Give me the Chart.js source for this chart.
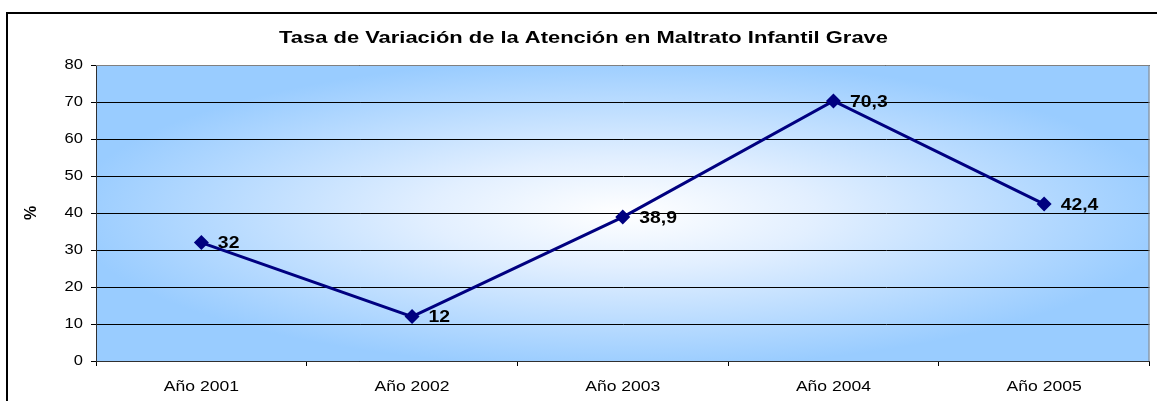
<!DOCTYPE html>
<html><head><meta charset="utf-8">
<script src="https://cdn.jsdelivr.net/npm/chart.js@4/dist/chart.umd.min.js"></script>
<style>html,body{margin:0;padding:0;background:#fff;overflow:hidden;}</style>
</head><body>
<canvas id="c" width="1157" height="401"></canvas>
<script>
const categories = ['Año 2001', 'Año 2002', 'Año 2003', 'Año 2004', 'Año 2005'];
const values = [32, 12, 38.9, 70.3, 42.4];
const valueLabels = ['32', '12', '38,9', '70,3', '42,4'];
const yTickValues = [0, 10, 20, 30, 40, 50, 60, 70, 80];
const chartTitle = 'Tasa de Variación de la Atención en Maltrato Infantil Grave';
const yAxisTitle = '%';

const FONT = 'Arial, "Liberation Sans", sans-serif';

// The reference picture is horizontally stretched; emulate by widening glyphs.
const canvas = document.getElementById('c');
const ctx2d = canvas.getContext('2d');
const origFill = ctx2d.fillText;
const origMeasure = ctx2d.measureText;
function stretchFor(font) {
  const m = /(\d+(?:\.\d+)?)px/.exec(font);
  const size = m ? parseFloat(m[1]) : 0;
  const bold = /bold|700/.test(font);
  if (bold && size === 17) return { s: 1.29, dx: 4 };   // chart title
  if (!bold && size === 15) return { s: 1.17, dx: 0 };  // category labels
  if (!bold && size === 14) return { s: 1.18, dx: 0 };  // value axis labels
  return { s: 1, dx: 0 };
}
ctx2d.fillText = function (text, x, y, maxWidth) {
  const st = stretchFor(this.font);
  if (st.s === 1 && st.dx === 0) {
    return maxWidth === undefined ? origFill.call(this, text, x, y) : origFill.call(this, text, x, y, maxWidth);
  }
  this.save();
  this.translate(x + st.dx, y);
  this.scale(st.s, 1);
  if (maxWidth === undefined) origFill.call(this, text, 0, 0);
  else origFill.call(this, text, 0, 0, maxWidth / st.s);
  this.restore();
};
ctx2d.measureText = function (text) {
  const m = origMeasure.call(this, text);
  const st = stretchFor(this.font);
  if (st.s === 1) return m;
  return {
    width: m.width * st.s,
    actualBoundingBoxAscent: m.actualBoundingBoxAscent,
    actualBoundingBoxDescent: m.actualBoundingBoxDescent,
    actualBoundingBoxLeft: m.actualBoundingBoxLeft * st.s,
    actualBoundingBoxRight: m.actualBoundingBoxRight * st.s,
    fontBoundingBoxAscent: m.fontBoundingBoxAscent,
    fontBoundingBoxDescent: m.fontBoundingBoxDescent
  };
};

const bgPlugin = {
  id: 'bg',
  beforeDraw(chart) {
    const ctx = chart.ctx, a = chart.chartArea;
    ctx.save();
    ctx.fillStyle = '#ffffff';
    ctx.fillRect(0, 0, chart.width, chart.height);
    ctx.strokeStyle = '#000000';
    ctx.lineWidth = 2;
    ctx.strokeRect(7, 13, chart.width + 20, chart.height + 20);
    const cx = (a.left + a.right) / 2, cy = (a.top + a.bottom) / 2;
    const rx = (a.right - a.left) / 2, ry = (a.bottom - a.top) / 2;
    ctx.beginPath();
    ctx.rect(a.left, a.top, a.right - a.left, a.bottom - a.top);
    ctx.clip();
    ctx.translate(cx, cy);
    ctx.scale(rx / ry, 1);
    const g = ctx.createRadialGradient(0, 0, 0, 0, 0, ry * 1.05);
    g.addColorStop(0, '#ffffff');
    g.addColorStop(0.35, '#e2efff');
    g.addColorStop(1, '#99ccff');
    ctx.fillStyle = g;
    ctx.fillRect(-ry * 2, -ry * 2, ry * 4, ry * 4);
    ctx.restore();
  },
  beforeDatasetsDraw(chart) {
    const ctx = chart.ctx, a = chart.chartArea;
    ctx.save();
    ctx.strokeStyle = '#808080';
    ctx.lineWidth = 1;
    ctx.beginPath();
    ctx.moveTo(a.left, a.top + 0.5);
    ctx.lineTo(a.right - 0.5, a.top + 0.5);
    ctx.lineTo(a.right - 0.5, a.bottom);
    ctx.stroke();
    ctx.restore();
  },
  afterDatasetsDraw(chart) {
    const ctx = chart.ctx;
    const meta = chart.getDatasetMeta(0);
    ctx.save();
    ctx.font = 'bold 17px ' + FONT;
    ctx.fillStyle = '#000000';
    ctx.textAlign = 'left';
    ctx.textBaseline = 'middle';
    meta.data.forEach((pt, i) => {
      ctx.save();
      ctx.translate(pt.x + 16.5, pt.y + 1);
      ctx.scale(1.14, 1);
      origFill.call(ctx, valueLabels[i], 0, 0);
      ctx.restore();
    });
    ctx.restore();
  }
};

new Chart(canvas, {
  type: 'line',
  data: {
    labels: categories,
    datasets: [{
      data: values,
      borderColor: '#000080',
      backgroundColor: '#000080',
      borderWidth: 3,
      pointStyle: 'rectRot',
      pointRadius: 7.5,
      pointBackgroundColor: '#000080',
      pointBorderColor: '#000080',
      pointBorderWidth: 0,
      tension: 0,
      clip: false
    }]
  },
  options: {
    responsive: false,
    animation: false,
    events: [],
    layout: { padding: { left: 8, right: 6, top: 0, bottom: 0 } },
    plugins: {
      legend: { display: false },
      tooltip: { enabled: false },
      title: {
        display: true,
        text: chartTitle,
        color: '#000000',
        font: { family: FONT, size: 17, weight: 'bold' },
        padding: { top: 28, bottom: 16.6 }
      }
    },
    scales: {
      x: {
        offset: true,
        grid: { offset: true, drawOnChartArea: false, drawTicks: true, tickLength: 5, color: '#000000' },
        border: { color: '#303030', width: 1 },
        ticks: { color: '#000000', font: { family: FONT, size: 15 }, padding: 12, maxRotation: 0, autoSkip: false },
        afterFit(s) { s.height = 40; }
      },
      y: {
        min: 0, max: 80,
        afterBuildTicks(s) { s.ticks = yTickValues.map(v => ({ value: v })); },
        grid: { color: '#000000', lineWidth: 1, tickLength: 5 },
        border: { color: '#303030', width: 1 },
        ticks: { color: '#000000', font: { family: FONT, size: 14 }, padding: 8 },
        title: { display: true, text: yAxisTitle, color: '#000000', font: { family: FONT, size: 16, weight: 'bold' }, padding: { top: 14, bottom: 0 } },
        afterFit(s) { s.width = 88; }
      }
    }
  },
  plugins: [bgPlugin]
});
</script>
</body></html>
